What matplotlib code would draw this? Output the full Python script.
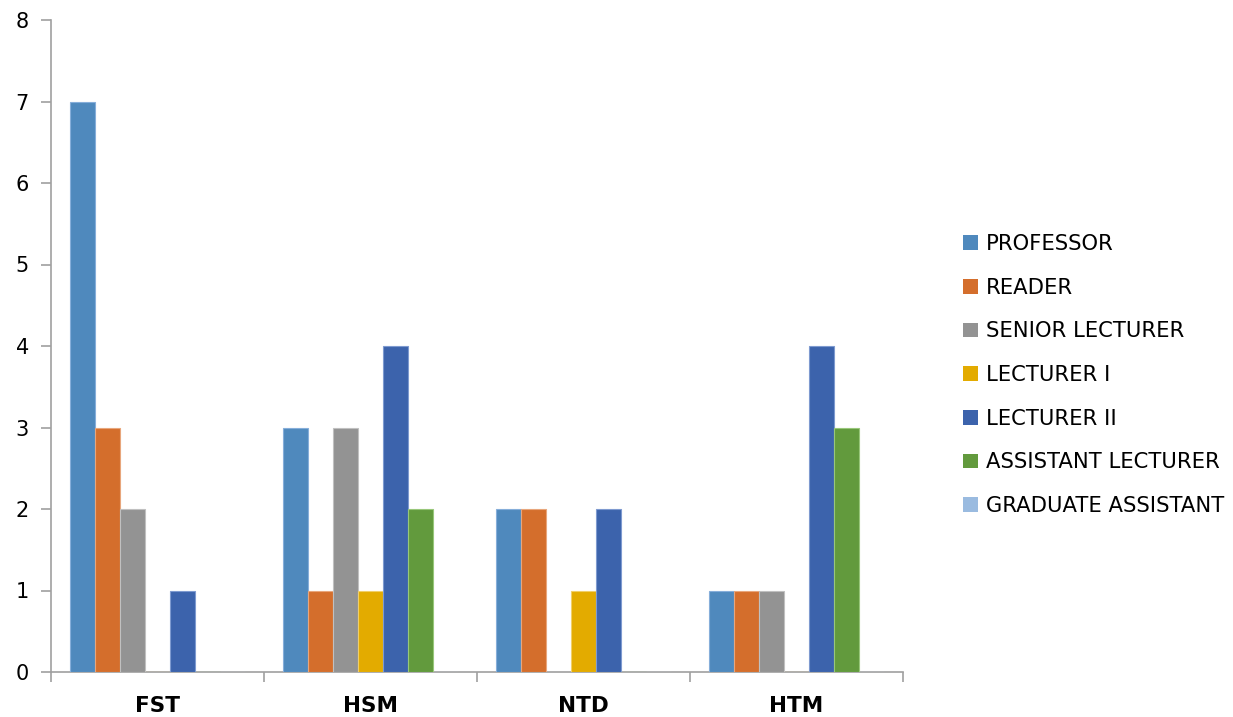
import matplotlib
matplotlib.use("Agg")
import matplotlib.pyplot as plt
import numpy as np
from matplotlib.patches import Patch

categories = ["FST", "HSM", "NTD", "HTM"]
series_names = ["PROFESSOR", "READER", "SENIOR LECTURER", "LECTURER I",
                "LECTURER II", "ASSISTANT LECTURER", "GRADUATE ASSISTANT"]
professor = [7, 3, 2, 1]
reader = [3, 1, 2, 1]
senior_lecturer = [2, 3, 0, 1]
lecturer_i = [0, 1, 1, 0]
lecturer_ii = [1, 4, 2, 4]
assistant_lecturer = [0, 2, 0, 3]
graduate_assistant = [0, 0, 0, 0]
series_values = [professor, reader, senior_lecturer, lecturer_i,
                 lecturer_ii, assistant_lecturer, graduate_assistant]
colors = ["#4F89BD", "#D46E2C", "#939393", "#E3AB00", "#3C63AC", "#629A3D", "#9ABBE0"]
edges = ["#86AEDA", "#E8A67C", "#C0C0C0", "#F0CF6A", "#7E9AD0", "#98C77A", "#C5D8EE"]

plt.rcParams['font.family'] = ['DejaVu Sans']
fig = plt.figure(figsize=(12.33, 7.17), dpi=100)
ax = fig.add_axes([51/1233, 1-672/717, (903-51)/1233, (672-20)/717])

n = len(series_names)
bar_w = 25/213
x = np.arange(len(categories))
for i, (name, vals) in enumerate(zip(series_names, series_values)):
    offs = (i - (n-1)/2) * bar_w
    ax.bar(x + offs, vals, width=bar_w, color=colors[i], edgecolor=edges[i],
           linewidth=0.8, label=name, zorder=3)

ax.set_xlim(-0.5, len(categories)-0.5)
ax.set_ylim(0, 8)
ax.set_yticks(range(0, 9))
ax.tick_params(axis='y', labelsize=15, length=7, color='#A0A0A0', width=1.2, pad=9)
ax.set_xticks(np.arange(len(categories)+1) - 0.5)
ax.set_xticklabels([])
ax.set_xticks(x, minor=True)
ax.set_xticklabels(categories, minor=True, fontsize=15.5, fontweight='bold')
ax.tick_params(axis='x', which='major', length=7, color='#A0A0A0', width=1.2)
ax.tick_params(axis='x', which='minor', length=0, pad=17.5)
for s in ['top', 'right']:
    ax.spines[s].set_visible(False)
for s in ['left', 'bottom']:
    ax.spines[s].set_color('#A0A0A0')
    ax.spines[s].set_linewidth(1.2)

handles = [Patch(facecolor=c, edgecolor='none') for c in colors]
fig.legend(handles, series_names, loc='center left', bbox_to_anchor=(955/1233, 1-375/717),
           frameon=False, fontsize=15.2, handlelength=0.7, handleheight=0.7,
           handletextpad=0.35, labelspacing=1.12, borderaxespad=0)

fig.savefig("out.png", dpi=100)
